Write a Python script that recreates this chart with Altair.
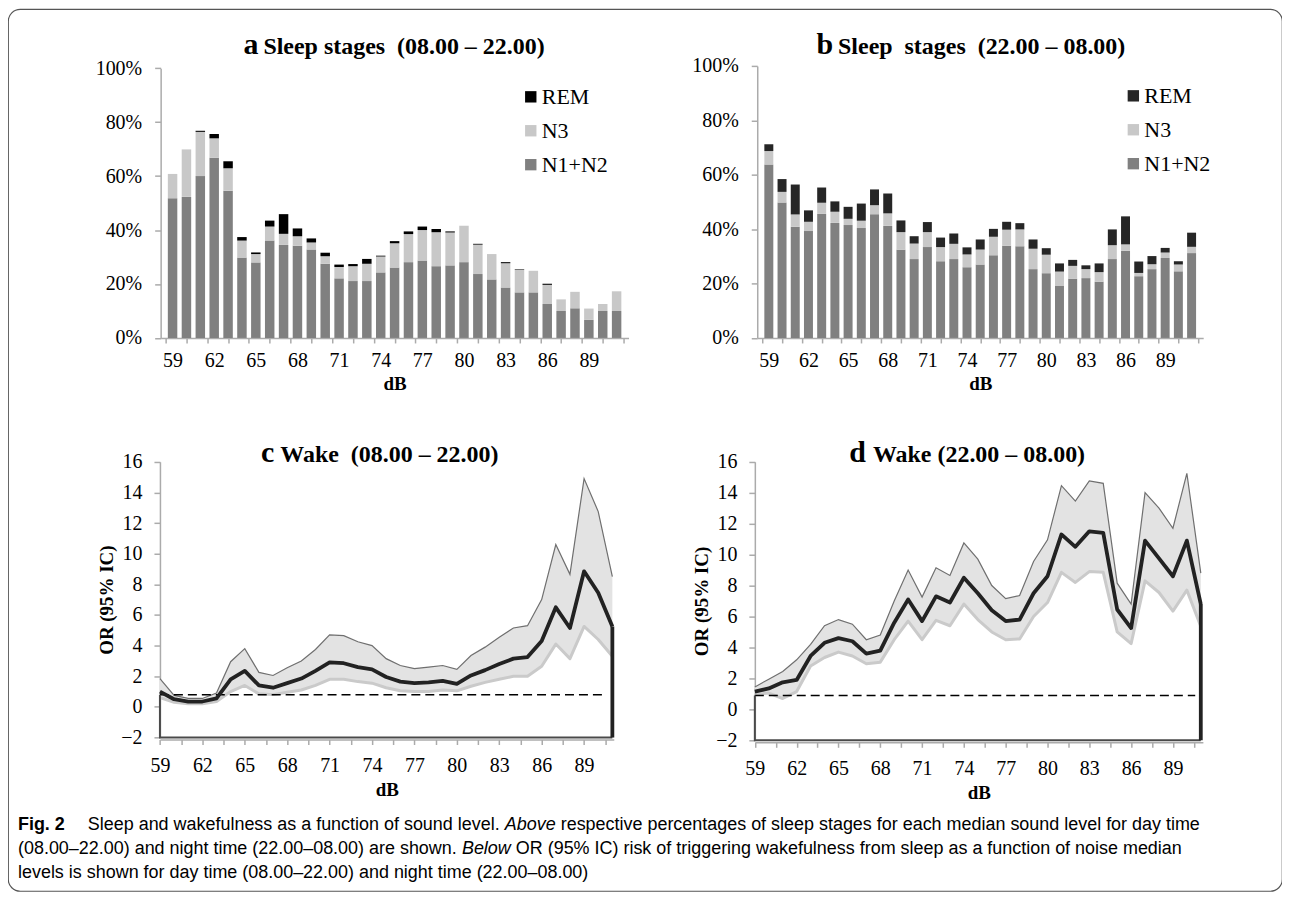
import altair as alt
import pandas as pd

# ---------------- data ----------------
dB = list(range(59, 92))
stage_names = ["REM", "N3", "N1+N2"]

# a: sleep stages 08.00-22.00 (percent)
a_n1n2 = [51.8, 52.3, 60.0, 66.8, 54.6, 29.8, 28.0, 36.1, 34.5, 34.2, 32.8, 27.5, 22.1, 21.1, 21.1, 24.3, 26.1,
          28.1, 28.7, 26.6, 26.9, 28.1, 23.7, 21.7, 18.7, 16.9, 16.9, 12.6, 10.0, 11.0, 6.7, 10.0, 10.0]
a_n3 = [9.0, 17.6, 16.4, 7.2, 8.3, 6.3, 3.1, 5.2, 4.1, 3.5, 2.6, 2.8, 4.2, 5.5, 6.4, 5.9, 9.0,
        10.4, 11.3, 12.6, 12.2, 13.5, 10.9, 9.4, 9.0, 8.3, 8.0, 7.1, 4.3, 6.1, 4.2, 2.6, 7.3]
a_rem = [0, 0, 0.4, 1.6, 2.6, 1.3, 0.6, 2.2, 7.3, 2.9, 1.5, 1.3, 0.9, 0.8, 1.8, 0.3, 0.8,
         1.0, 1.3, 1.2, 0.4, 0, 0.3, 0, 0.4, 0.2, 0, 0.4, 0, 0, 0, 0, 0]

# b: sleep stages 22.00-08.00 (percent)
b_n1n2 = [63.8, 49.8, 40.9, 39.3, 45.6, 42.3, 41.5, 40.4, 45.5, 41.2, 32.4, 29.0, 33.4, 28.2, 29.0, 26.0, 27.0,
          30.4, 33.9, 33.7, 25.3, 23.8, 19.1, 21.8, 22.0, 20.7, 29.0, 32.1, 22.7, 25.3, 29.4, 24.5, 31.2]
b_n3 = [4.9, 3.9, 4.5, 3.4, 4.1, 4.1, 2.3, 2.7, 3.3, 4.6, 6.5, 5.7, 5.5, 5.2, 5.6, 4.7, 5.5,
        6.8, 5.9, 6.2, 7.5, 6.8, 5.3, 4.7, 3.3, 3.5, 5.1, 2.3, 1.2, 1.8, 2.0, 2.5, 2.3]
b_rem = [2.5, 4.7, 11.0, 4.2, 5.6, 3.8, 4.4, 6.3, 5.8, 7.3, 4.3, 2.7, 3.7, 3.5, 3.8, 2.6, 3.7,
         2.9, 2.9, 2.3, 3.4, 2.4, 3.0, 2.2, 1.4, 3.2, 5.8, 10.3, 4.2, 3.0, 1.7, 1.2, 5.2]

# c: wake OR 08.00-22.00
c_or = [1.0, 0.5, 0.35, 0.35, 0.55, 1.8, 2.35, 1.4, 1.25, 1.55, 1.85, 2.35, 2.9, 2.85, 2.6, 2.45, 1.95,
        1.65, 1.55, 1.6, 1.7, 1.5, 2.05, 2.4, 2.8, 3.15, 3.25, 4.3, 6.5, 5.15, 8.85, 7.45, 5.25]
c_hi = [1.85, 0.75, 0.55, 0.55, 0.9, 2.95, 3.8, 2.25, 2.05, 2.55, 3.0, 3.75, 4.7, 4.65, 4.25, 4.0, 3.15,
        2.7, 2.5, 2.6, 2.7, 2.45, 3.35, 3.9, 4.55, 5.15, 5.3, 7.0, 10.6, 8.65, 14.9, 12.75, 8.5]
c_lo = [0.6, 0.3, 0.2, 0.2, 0.35, 1.0, 1.4, 0.85, 0.8, 0.95, 1.1, 1.4, 1.8, 1.8, 1.65, 1.55, 1.25,
        1.05, 1.0, 1.0, 1.1, 1.05, 1.35, 1.6, 1.8, 2.0, 2.0, 2.65, 4.1, 3.15, 5.25, 4.4, 3.3]

# d: wake OR 22.00-08.00
d_or = [1.15, 1.35, 1.75, 1.9, 3.45, 4.3, 4.6, 4.4, 3.6, 3.8, 5.6, 7.1, 5.7, 7.3, 6.9, 8.5, 7.5,
        6.4, 5.7, 5.8, 7.5, 8.6, 11.3, 10.5, 11.5, 11.4, 6.45, 5.25, 10.9, 9.75, 8.6, 10.9, 6.8]
d_hi = [1.45, 1.95, 2.45, 3.2, 4.2, 5.4, 5.8, 5.5, 4.5, 4.8, 7.0, 9.0, 7.25, 9.15, 8.65, 10.75, 9.7,
        8.0, 7.15, 7.35, 9.55, 10.95, 14.45, 13.45, 14.75, 14.6, 8.15, 6.8, 14.0, 13.0, 11.7, 15.25, 8.8]
d_lo = [0.95, 1.05, 0.7, 1.15, 2.8, 3.35, 3.7, 3.45, 2.95, 3.05, 4.5, 5.7, 4.5, 5.75, 5.4, 6.8, 5.8,
        5.0, 4.5, 4.55, 6.0, 6.9, 8.85, 8.2, 8.9, 8.85, 5.0, 4.25, 8.3, 7.55, 6.35, 7.7, 5.35]

c_ref = 0.8
d_ref = 0.9
or_floor = -2

# axis ticks / labels
x_label_values = [59, 62, 65, 68, 71, 74, 77, 80, 83, 86, 89]
bar_tick_values = [58.5, 60, 61.5, 63, 64.5, 66, 67.5, 69, 70.5, 72, 73.5, 75, 76.5, 78, 79.5, 81,
                   82.5, 84, 85.5, 87, 88.5, 90, 91.5]
line_tick_values = [59, 60.5, 62, 63.5, 65, 66.5, 68, 69.5, 71, 72.5, 74, 75.5, 77, 78.5, 80, 81.5,
                    83, 84.5, 86, 87.5, 89, 90.5]
pct_ticks = [0, 0.2, 0.4, 0.6, 0.8, 1.0]
or_ticks = [-2, 0, 2, 4, 6, 8, 10, 12, 14, 16]

NB = "\u00a0"
title_a = ("a", "Sleep stages" + NB + NB + "(08.00 – 22.00)")
title_b = ("b", "Sleep" + NB + NB + "stages" + NB + NB + "(22.00 – 08.00)")
title_c = ("c", "Wake" + NB + NB + "(08.00 – 22.00)")
title_d = ("d", "Wake (22.00 – 08.00)")

caption_1 = ["Fig. 2", "Sleep and wakefulness as a function of sound level.", "Above",
             "respective percentages of sleep stages for each median sound level for day time"]
caption_2 = ["(08.00–22.00) and night time (22.00–08.00) are shown.", "Below",
             "OR (95% IC) risk of triggering wakefulness from sleep as a function of noise median"]
caption_3 = ["levels is shown for day time (08.00–22.00) and night time (22.00–08.00)"]

# ---------------- layout ----------------
W, H = 1277, 884
SERIF = "Liberation Serif"
SANS = "Liberation Sans"
LABEL_EXPR = "(datum.value - 59) % 3 == 0 ? datum.label : ''"


def bar_panel(n1n2, n3, rem, xrange, yrange, y_axis_x, rem_color, leg_x, leg_y, bar_size):
    rows = []
    for i, d in enumerate(dB):
        rows.append({"dB": d, "stage": "N1+N2", "k": 0, "share": n1n2[i] / 100})
        rows.append({"dB": d, "stage": "N3", "k": 1, "share": n3[i] / 100})
        rows.append({"dB": d, "stage": "REM", "k": 2, "share": rem[i] / 100})
    df = pd.DataFrame(rows)
    values = sorted(set(bar_tick_values) | set(x_label_values))
    xa = alt.Axis(orient="bottom", offset=yrange[0] - H, values=values, labelExpr=LABEL_EXPR,
                  tickOpacity={"condition": {"test": "(datum.value - 59) % 3 == 0", "value": 0}, "value": 1},
                  labelFlush=False, labelOverlap=False, title="dB", labelPadding=8, titlePadding=4)
    ya = alt.Axis(orient="left", offset=-y_axis_x, values=pct_ticks, format=".0%", title=None,
                  tickSize=6, labelPadding=13, labelFlush=False, labelOverlap=False)
    return alt.Chart(df).mark_bar(size=bar_size).encode(
        x=alt.X("dB:Q", scale=alt.Scale(domain=[58.5, 91.5], range=xrange, nice=False, zero=False), axis=xa),
        y=alt.Y("share:Q", stack="zero",
                scale=alt.Scale(domain=[0, 1], range=yrange, nice=False, zero=False), axis=ya),
        color=alt.Color("stage:N",
                        scale=alt.Scale(domain=stage_names, range=[rem_color, "#c8c8c8", "#808080"]),
                        legend=alt.Legend(orient="none", legendX=leg_x, legendY=leg_y, title=None,
                                          direction="vertical", symbolType="square", symbolSize=130,
                                          symbolStrokeWidth=0, labelFont=SERIF, labelFontSize=22,
                                          labelColor="black", rowPadding=12, labelOffset=0, padding=0)),
        order=alt.Order("k:Q"),
    )


def or_panel(or_vals, lo_vals, hi_vals, ref, xdom, xrange, yrange, y_axis_x):
    df = pd.DataFrame({"dB": dB, "OR": or_vals, "lo": lo_vals, "hi": hi_vals})
    xs = alt.Scale(domain=xdom, range=xrange, nice=False, zero=False)
    ys = alt.Scale(domain=[-2, 16], range=yrange, nice=False, zero=False)
    xa = alt.Axis(orient="bottom", offset=yrange[0] + 2 - H, values=line_tick_values, labelExpr=LABEL_EXPR,
                  labelFlush=False, labelOverlap=False, title="dB", labelPadding=11, titlePadding=5)
    ya = alt.Axis(orient="left", offset=-y_axis_x, values=or_ticks, title="OR (95% IC)",
                  tickSize=6, labelPadding=12, titlePadding=4, labelFlush=False, labelOverlap=False)
    X = alt.X("dB:Q", scale=xs, axis=xa)
    base = alt.Chart(df)
    area = base.mark_area(color="#e3e3e3").encode(x=X, y=alt.Y("hi:Q", scale=ys, axis=ya), y2="lo:Q")
    lower = base.mark_line(color="#cacaca", strokeWidth=3, strokeJoin="round").encode(
        x=X, y=alt.Y("lo:Q", scale=ys, axis=ya))
    upper = base.mark_line(color="#6f6f6f", strokeWidth=1.2).encode(x=X, y=alt.Y("hi:Q", scale=ys, axis=ya))
    ref_df = pd.DataFrame({"dB": [dB[0]], "dB2": [dB[-1] - 0.4], "v": [ref]})
    refline = alt.Chart(ref_df).mark_rule(color="black", strokeWidth=1.5, strokeDash=[9, 5]).encode(
        x=X, x2="dB2:Q", y=alt.Y("v:Q", scale=ys, axis=ya))
    frame_df = pd.DataFrame({"dB": [dB[0], dB[0], dB[-1]], "v": [ref, or_floor, or_floor], "k": [0, 1, 2]})
    frame = alt.Chart(frame_df).mark_line(color="#4a4a4a", strokeWidth=2).encode(
        x=X, y=alt.Y("v:Q", scale=ys, axis=ya), order="k:Q")
    main = base.mark_line(color="#222222", strokeWidth=3.8, strokeJoin="round").encode(
        x=X, y=alt.Y("OR:Q", scale=ys, axis=ya))
    drop_df = pd.DataFrame({"dB": [dB[-1]], "top": [or_vals[-1]], "bottom": [or_floor]})
    drop = alt.Chart(drop_df).mark_rule(color="#222222", strokeWidth=3.8).encode(
        x=X, y=alt.Y("top:Q", scale=ys, axis=ya), y2="bottom:Q")
    return alt.layer(area, lower, upper, refline, frame, main, drop)


def txt(s, x, y, size, weight="normal", style="normal", align="left", font=SERIF):
    return alt.Chart(alt.Data(values=[{}])).mark_text(
        text=s, font=font, fontSize=size, fontWeight=weight, fontStyle=style, align=align,
        baseline="alphabetic", color="black").encode(x=alt.value(x), y=alt.value(y))


def panel_title(t, x_letter, x_text, y):
    return [txt(t[0], x_letter, y, 30, "bold", align="right"), txt(t[1], x_text, y, 24, "bold")]


panel_a = bar_panel(a_n1n2, a_n3, a_rem, [153, 622], [329.7, 59.3], 153, "#000000", 513, 77, 9.5)
panel_b = bar_panel(b_n1n2, b_n3, b_rem, [751, 1198], [329.7, 57], 751, "#262626", 1117, 76, 9)
panel_c = or_panel(c_or, c_lo, c_hi, c_ref, [59, 91.1], [152.3, 607.2], [730.2, 453.8], 152.3)
panel_d = or_panel(d_or, d_lo, d_hi, d_ref, [59, 91.15], [748.6, 1197.7], [733, 453.7], 748.6)

texts = (
    panel_title(title_a, 251, 256, 45)
    + panel_title(title_b, 827, 832, 45)
    + panel_title(title_c, 267, 273, 454)
    + panel_title(title_d, 860, 867, 454)
    + [
        txt(caption_1[0], 10, 823, 18, "bold", font=SANS),
        txt(caption_1[1], 80, 823, 18, font=SANS),
        txt(caption_1[2], 498, 823, 18, style="italic", font=SANS),
        txt(caption_1[3], 554, 823, 18, font=SANS),
        txt(caption_2[0], 10, 847, 18, font=SANS),
        txt(caption_2[1], 455, 847, 18, style="italic", font=SANS),
        txt(caption_2[2], 509, 847, 18, font=SANS),
        txt(caption_3[0], 10, 871, 18, font=SANS),
    ]
)

chart = alt.layer(panel_a, panel_b, panel_c, panel_d, *texts).resolve_scale(
    x="independent", y="independent", color="independent"
).properties(
    width=W, height=H, padding=0, autosize=alt.AutoSizeParams(type="none")
).configure_view(
    stroke="#555555", strokeWidth=1.2, cornerRadius=12
).configure_axis(
    grid=False, domainColor="#ababab", tickColor="#ababab", domainWidth=1.5, tickWidth=1.5, tickSize=5,
    labelFont=SERIF, labelFontSize=20, labelColor="black",
    titleFont=SERIF, titleFontSize=19, titleFontWeight="bold", titleColor="black"
)

chart.save("out.html", embed_options={"renderer": "svg", "actions": False})
